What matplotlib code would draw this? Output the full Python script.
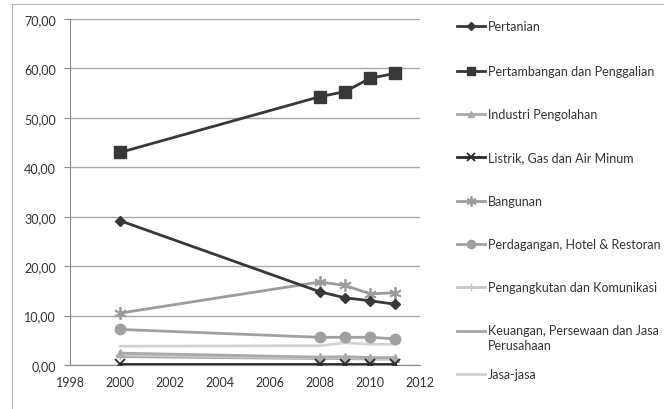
import matplotlib
matplotlib.use("Agg")
import matplotlib.pyplot as plt
from matplotlib.lines import Line2D
from matplotlib.patches import Rectangle

years = [2000, 2008, 2009, 2010, 2011]
series_names = [
    "Pertanian",
    "Pertambangan dan Penggalian",
    "Industri Pengolahan",
    "Listrik, Gas dan Air Minum",
    "Bangunan",
    "Perdagangan, Hotel & Restoran",
    "Pengangkutan dan Komunikasi",
    "Keuangan, Persewaan dan Jasa\nPerusahaan",
    "Jasa-jasa",
]
pertanian = [29.2, 14.8, 13.6, 13.0, 12.3]
pertambangan = [43.0, 54.3, 55.3, 58.0, 59.0]
industri = [2.4, 1.6, 1.7, 1.5, 1.5]
listrik = [0.2, 0.2, 0.2, 0.2, 0.2]
bangunan = [10.5, 16.8, 16.1, 14.4, 14.6]
perdagangan = [7.2, 5.6, 5.6, 5.6, 5.3]
pengangkutan = [2.0, 1.4, 1.5, 1.3, 1.3]
keuangan = [1.7, 1.3, 1.3, 1.2, 1.2]
jasa = [3.8, 3.9, 4.5, 4.2, 4.2]
values = [pertanian, pertambangan, industri, listrik, bangunan,
          perdagangan, pengangkutan, keuangan, jasa]

yticks = [0, 10, 20, 30, 40, 50, 60, 70]
xticks = [1998, 2000, 2002, 2004, 2006, 2008, 2010, 2012]

ASTER = (6, 2, 0)
styles = [
    dict(color="#383838", marker="D", ms=5),
    dict(color="#383838", marker="s", ms=8),
    dict(color="#aaaaaa", marker="^", ms=6),
    dict(color="#2a2a2a", marker="x", ms=7, mew=1.3),
    dict(color="#9c9c9c", marker=ASTER, ms=9, mew=1.3),
    dict(color="#a0a0a0", marker="o", ms=7.5),
    dict(color="#c8c8c8", marker="+", ms=7, mew=1.0),
    dict(color="#a5a5a5", marker=None, ms=0),
    dict(color="#d2d2d2", marker=None, ms=0),
]

plt.rcParams["font.family"] = ["Lato", "DejaVu Sans"]

W, H = 664, 410
fig = plt.figure(figsize=(W / 100, H / 100), dpi=100)
ax = fig.add_axes([70 / W, 1 - 366 / H, 350 / W, 346 / H])

# draw order: lighter series first, dark ones on top
order = [8, 7, 6, 2, 5, 4, 3, 0, 1]
for k, i in enumerate(order):
    st = styles[i]
    ax.plot(years, values[i], color=st["color"], lw=2.0, marker=st["marker"],
            ms=st["ms"], mew=st.get("mew", 1.0), zorder=3 + k * 0.1)

ax.set_xlim(1998, 2012)
ax.set_ylim(0, 70)
ax.set_yticks(yticks)
ax.set_yticklabels([f"{v:.2f}".replace(".", ",") for v in yticks])
ax.set_xticks(xticks)
ax.set_xticklabels([str(x) for x in xticks])
ax.yaxis.grid(True, color="#a8a8a8", lw=1.0)
ax.set_axisbelow(True)
for s in ["top", "right"]:
    ax.spines[s].set_visible(False)
ax.spines["left"].set_color("#8a8a8a")
ax.spines["bottom"].set_color("#8a8a8a")
ax.tick_params(axis="y", direction="out", length=4, color="#8a8a8a",
               labelsize=9, labelcolor="#333333", pad=6)
ax.tick_params(axis="x", direction="out", length=0, labelsize=9,
               labelcolor="#333333", pad=8)

# outer chart border
fig.add_artist(Rectangle((12 / W, -0.01), 1.0, 1 - 5 / H + 0.01,
                         transform=fig.transFigure, fill=False,
                         ec="#b8b8b8", lw=0.8))

# legend
leg_y = [27, 72, 115, 158, 202, 245, 288, 332, 375]
for i, name in enumerate(series_names):
    st = styles[i]
    y = 1 - leg_y[i] / H
    x0, x1 = 457 / W, 485 / W
    fig.add_artist(Line2D([x0, x1], [y, y], transform=fig.transFigure,
                          color=st["color"], lw=2.0))
    if st["marker"] is not None:
        fig.add_artist(Line2D([(x0 + x1) / 2], [y], transform=fig.transFigure,
                              marker=st["marker"], ms=st["ms"] * 0.8,
                              mew=st.get("mew", 1.0), color=st["color"],
                              linestyle="none"))
    if "\n" in name:
        fig.text(488 / W, y + 7 / H, name, ha="left", va="top", fontsize=9,
                 color="#333333", linespacing=1.3)
    else:
        fig.text(488 / W, y, name, ha="left", va="center", fontsize=9,
                 color="#333333")

fig.savefig("out.png", dpi=100)
